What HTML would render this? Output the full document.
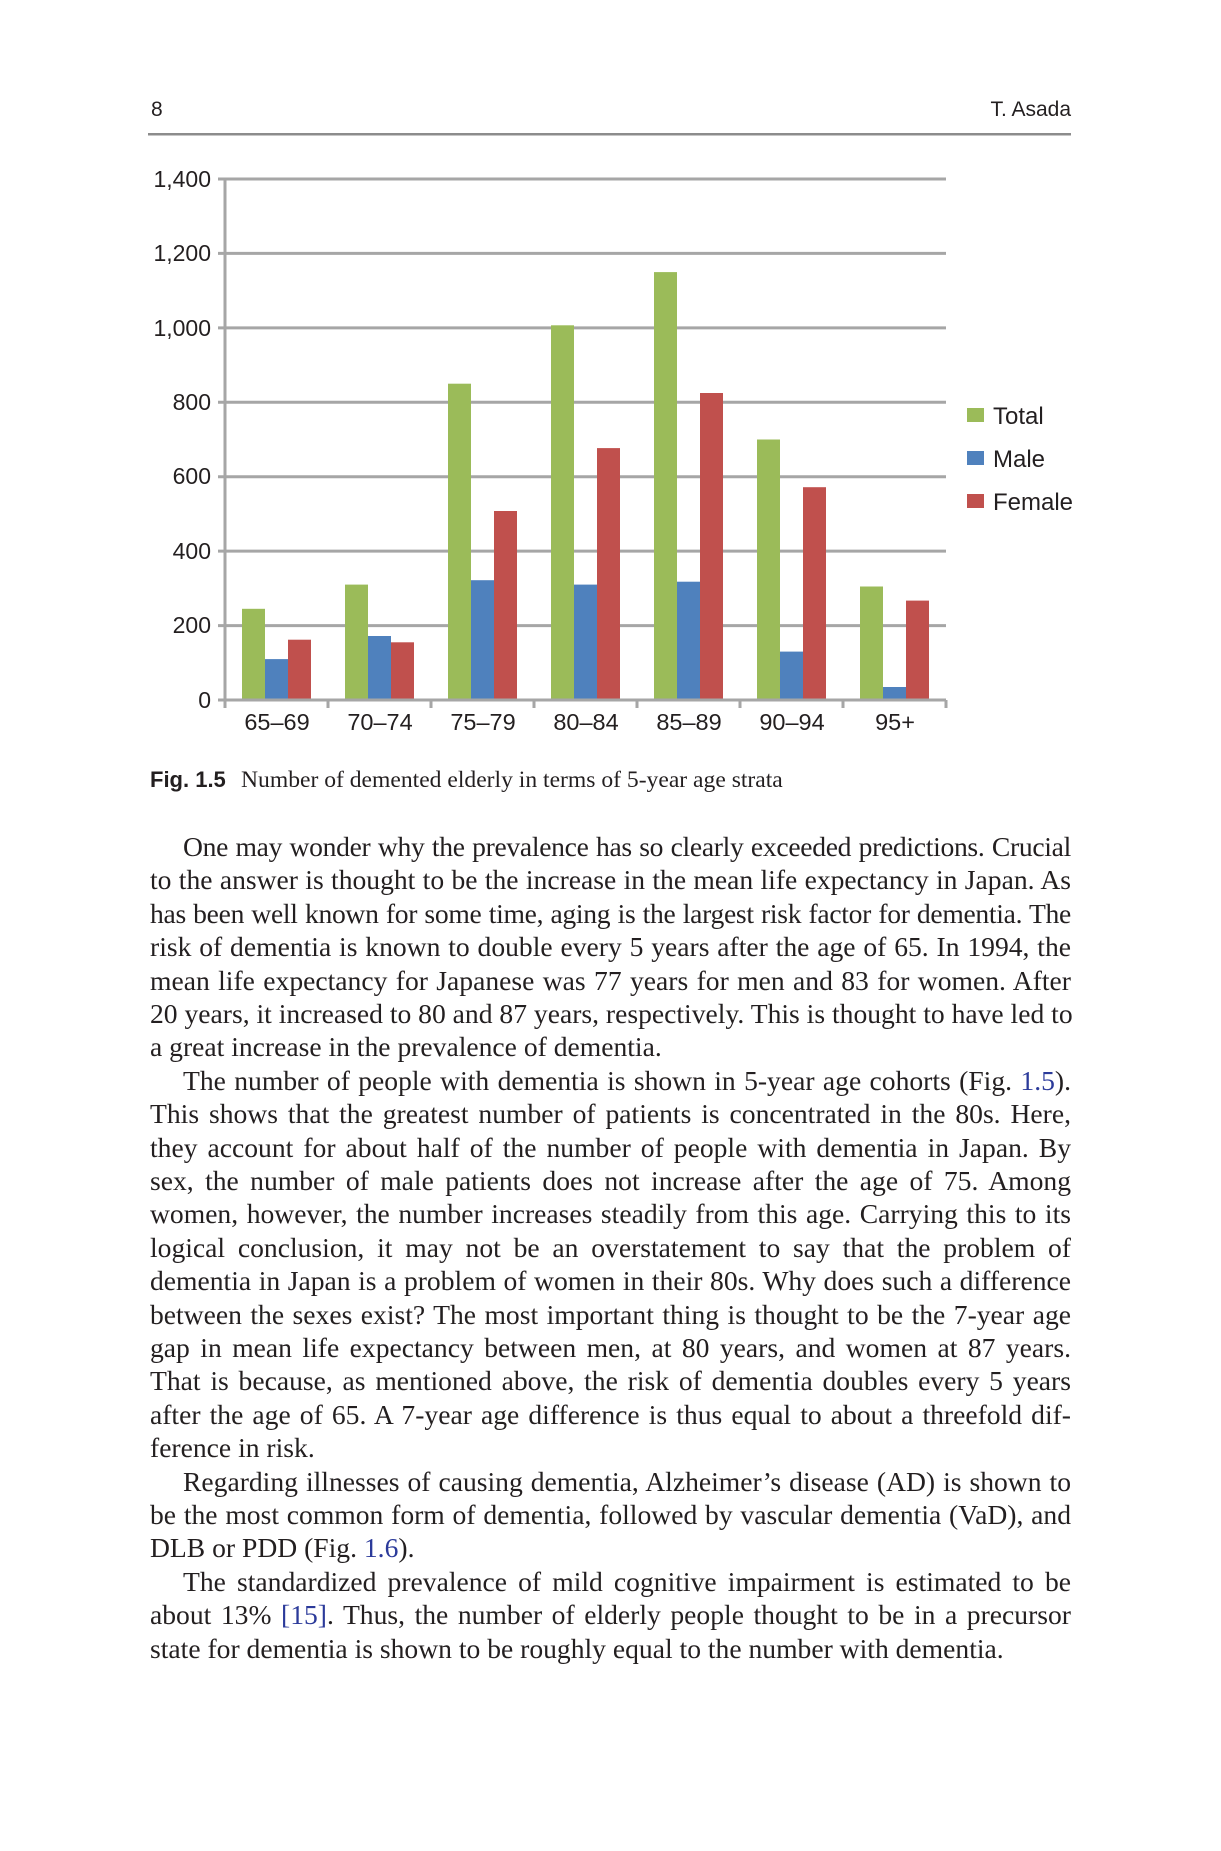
<!DOCTYPE html>
<html><head><meta charset="utf-8">
<style>
html,body{margin:0;padding:0;background:#fff;}
body{width:1221px;height:1851px;position:relative;overflow:hidden;}
svg{position:absolute;left:0;top:0;}
.ln{position:absolute;left:150px;width:921px;font-family:"Liberation Serif",serif;font-size:27.6px;color:#231f20;text-align:justify;text-align-last:justify;white-space:nowrap;line-height:30px;}
.ln.last{text-align-last:left;}
.ind{left:183px;width:888px;}
.t{letter-spacing:-0.3px;}
.b{color:#2b3a9a;}
</style></head><body>
<svg width="1221" height="1851" xmlns="http://www.w3.org/2000/svg">
<g font-family="Liberation Sans, sans-serif" fill="#231f20">
<text x="151" y="116" font-size="21">8</text>
<text x="1071" y="116" font-size="21" text-anchor="end">T. Asada</text>
</g>
<rect x="148" y="133" width="923" height="2.5" fill="#8c8c8c"/>
<g stroke="#a6a6a6" stroke-width="3">
<line x1="218" y1="179" x2="946" y2="179"/>
<line x1="218" y1="253.4" x2="946" y2="253.4"/>
<line x1="218" y1="327.9" x2="946" y2="327.9"/>
<line x1="218" y1="402.3" x2="946" y2="402.3"/>
<line x1="218" y1="476.7" x2="946" y2="476.7"/>
<line x1="218" y1="551.1" x2="946" y2="551.1"/>
<line x1="218" y1="625.6" x2="946" y2="625.6"/>
<line x1="225" y1="179" x2="225" y2="700"/>
</g>
<g>
<rect x="242" y="608.8" width="23" height="91.2" fill="#9bbb59"/>
<rect x="265" y="659.1" width="23" height="40.9" fill="#4f81bd"/>
<rect x="288" y="639.7" width="23" height="60.3" fill="#c0504d"/>

<rect x="345" y="584.6" width="23" height="115.4" fill="#9bbb59"/>
<rect x="368" y="636" width="23" height="64" fill="#4f81bd"/>
<rect x="391" y="642.3" width="23" height="57.7" fill="#c0504d"/>

<rect x="448" y="383.7" width="23" height="316.3" fill="#9bbb59"/>
<rect x="471" y="580.2" width="23" height="119.8" fill="#4f81bd"/>
<rect x="494" y="511" width="23" height="189" fill="#c0504d"/>

<rect x="551" y="325.3" width="23" height="374.7" fill="#9bbb59"/>
<rect x="574" y="584.6" width="23" height="115.4" fill="#4f81bd"/>
<rect x="597" y="448.1" width="23" height="251.9" fill="#c0504d"/>

<rect x="654" y="272.1" width="23" height="427.9" fill="#9bbb59"/>
<rect x="677" y="581.7" width="23" height="118.3" fill="#4f81bd"/>
<rect x="700" y="393" width="23" height="307" fill="#c0504d"/>

<rect x="757" y="439.5" width="23" height="260.5" fill="#9bbb59"/>
<rect x="780" y="651.6" width="23" height="48.4" fill="#4f81bd"/>
<rect x="803" y="487.2" width="23" height="212.8" fill="#c0504d"/>

<rect x="860" y="586.5" width="23" height="113.5" fill="#9bbb59"/>
<rect x="883" y="687" width="23" height="13" fill="#4f81bd"/>
<rect x="906" y="600.6" width="23" height="99.4" fill="#c0504d"/>
</g>
<g stroke="#a6a6a6" stroke-width="3">
<line x1="218" y1="700" x2="946" y2="700"/>
<line x1="225" y1="700" x2="225" y2="708"/>
<line x1="328" y1="700" x2="328" y2="708"/>
<line x1="431" y1="700" x2="431" y2="708"/>
<line x1="534" y1="700" x2="534" y2="708"/>
<line x1="637" y1="700" x2="637" y2="708"/>
<line x1="740" y1="700" x2="740" y2="708"/>
<line x1="843" y1="700" x2="843" y2="708"/>
<line x1="946" y1="700" x2="946" y2="708"/>
</g>
<g font-family="Liberation Sans, sans-serif" font-size="23" fill="#231f20" text-anchor="end">
<text x="211" y="187">1,400</text>
<text x="211" y="261">1,200</text>
<text x="211" y="336">1,000</text>
<text x="211" y="410">800</text>
<text x="211" y="484">600</text>
<text x="211" y="559">400</text>
<text x="211" y="633">200</text>
<text x="211" y="708">0</text>
</g>
<g font-family="Liberation Sans, sans-serif" font-size="23.5" fill="#231f20" text-anchor="middle">
<text x="277" y="730">65–69</text>
<text x="380" y="730">70–74</text>
<text x="483" y="730">75–79</text>
<text x="586" y="730">80–84</text>
<text x="689" y="730">85–89</text>
<text x="792" y="730">90–94</text>
<text x="895" y="730">95+</text>
</g>
<rect x="967" y="408" width="17" height="14" fill="#9bbb59"/>
<rect x="967" y="451" width="17" height="14" fill="#4f81bd"/>
<rect x="967" y="494" width="17" height="14" fill="#c0504d"/>
<g font-family="Liberation Sans, sans-serif" font-size="24" fill="#231f20">
<text x="993" y="424">Total</text>
<text x="993" y="467">Male</text>
<text x="993" y="510">Female</text>
</g>
<text x="150" y="787" font-family="Liberation Sans, sans-serif" font-weight="bold" font-size="22" fill="#231f20">Fig. 1.5</text>
<text x="241" y="787" font-family="Liberation Serif, serif" font-size="23.6" fill="#231f20">Number of demented elderly in terms of 5-year age strata</text>
</svg>

<div class="ln ind t" style="top:832px">One may wonder why the prevalence has so clearly exceeded predictions. Crucial</div>
<div class="ln" style="top:865.4px">to the answer is thought to be the increase in the mean life expectancy in Japan. As</div>
<div class="ln t" style="top:898.8px">has been well known for some time, aging is the largest risk factor for dementia. The</div>
<div class="ln" style="top:932.2px">risk of dementia is known to double every 5 years after the age of 65. In 1994, the</div>
<div class="ln" style="top:965.6px">mean life expectancy for Japanese was 77 years for men and 83 for women. After</div>
<div class="ln" style="top:999px">20 years, it increased to 80 and 87 years, respectively. This is thought to have led to</div>
<div class="ln last" style="top:1032.4px">a great increase in the prevalence of dementia.</div>
<div class="ln ind" style="top:1065.8px">The number of people with dementia is shown in 5-year age cohorts (Fig. <span class="b">1.5</span>).</div>
<div class="ln" style="top:1099.2px">This shows that the greatest number of patients is concentrated in the 80s. Here,</div>
<div class="ln" style="top:1132.6px">they account for about half of the number of people with dementia in Japan. By</div>
<div class="ln" style="top:1166px">sex, the number of male patients does not increase after the age of 75. Among</div>
<div class="ln" style="top:1199.4px">women, however, the number increases steadily from this age. Carrying this to its</div>
<div class="ln" style="top:1232.8px">logical conclusion, it may not be an overstatement to say that the problem of</div>
<div class="ln" style="top:1266.2px">dementia in Japan is a problem of women in their 80s. Why does such a difference</div>
<div class="ln" style="top:1299.6px">between the sexes exist? The most important thing is thought to be the 7-year age</div>
<div class="ln" style="top:1333px">gap in mean life expectancy between men, at 80 years, and women at 87 years.</div>
<div class="ln" style="top:1366.4px">That is because, as mentioned above, the risk of dementia doubles every 5 years</div>
<div class="ln" style="top:1399.8px">after the age of 65. A 7-year age difference is thus equal to about a threefold dif-</div>
<div class="ln last" style="top:1433.2px">ference in risk.</div>
<div class="ln ind" style="top:1466.6px">Regarding illnesses of causing dementia, Alzheimer’s disease (AD) is shown to</div>
<div class="ln" style="top:1500px">be the most common form of dementia, followed by vascular dementia (VaD), and</div>
<div class="ln last" style="top:1533.4px">DLB or PDD (Fig. <span class="b">1.6</span>).</div>
<div class="ln ind" style="top:1566.8px">The standardized prevalence of mild cognitive impairment is estimated to be</div>
<div class="ln" style="top:1600.2px">about 13% <span class="b">[15]</span>. Thus, the number of elderly people thought to be in a precursor</div>
<div class="ln last" style="top:1633.6px">state for dementia is shown to be roughly equal to the number with dementia.</div>
</body></html>
